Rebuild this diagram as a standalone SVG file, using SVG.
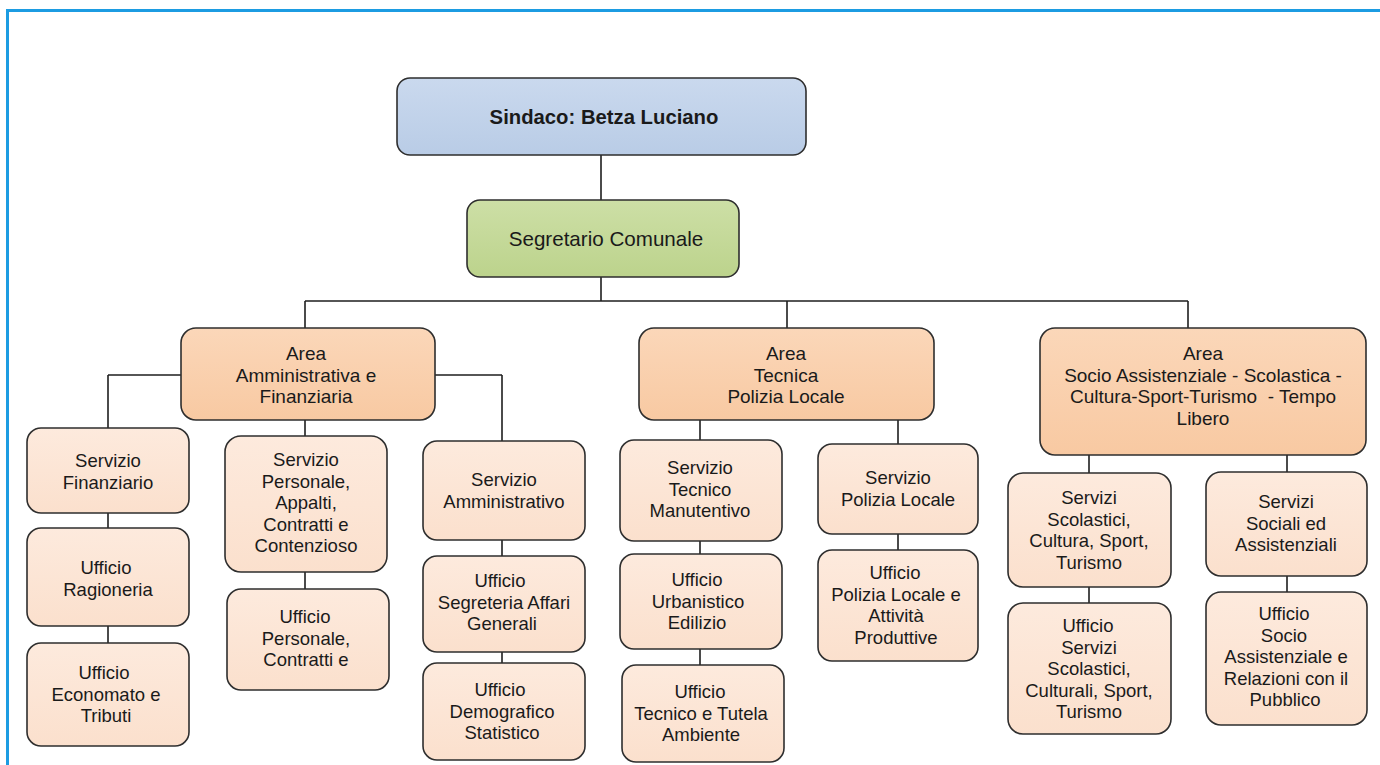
<svg xmlns="http://www.w3.org/2000/svg" width="1380" height="765" viewBox="0 0 1380 765">
<defs>
<linearGradient id="gBlue" x1="0" y1="0" x2="0" y2="1"><stop offset="0" stop-color="#cad9ee"/><stop offset="1" stop-color="#b9cce6"/></linearGradient>
<linearGradient id="gGreen" x1="0" y1="0" x2="0" y2="1"><stop offset="0" stop-color="#cddfa6"/><stop offset="1" stop-color="#bcd38c"/></linearGradient>
<linearGradient id="gArea" x1="0" y1="0" x2="0" y2="1"><stop offset="0" stop-color="#fbd7b9"/><stop offset="1" stop-color="#f8c9a2"/></linearGradient>
<linearGradient id="gChild" x1="0" y1="0" x2="0" y2="1"><stop offset="0" stop-color="#fdeadd"/><stop offset="1" stop-color="#fbe0cd"/></linearGradient>
</defs>
<style>
.box{stroke:#2e2e2e;stroke-width:1.6}
.top{fill:url(#gBlue)}
.sec{fill:url(#gGreen)}
.area{fill:url(#gArea)}
.child{fill:url(#gChild)}
text{font-family:"Liberation Sans",Arial,sans-serif;fill:#1a1a1a;text-anchor:middle}
.t{font-size:18.5px}
.ta{font-size:19px}
.tb{font-size:20.3px;font-weight:bold}
.ts{font-size:20.6px}
.conn line{stroke:#1e1e1e;stroke-width:1.6}
</style>
<rect x="0" y="0" width="1380" height="765" fill="#ffffff"/>
<g id="frame" fill="none" stroke="#1c9ce2" stroke-width="3">
<line x1="6" y1="10.5" x2="1380" y2="10.5"/>
<line x1="7.5" y1="9" x2="7.5" y2="765"/>
</g>
<g id="connectors" class="conn">
<line x1="601" y1="155" x2="601" y2="200"/>
<line x1="601" y1="277" x2="601" y2="301"/>
<line x1="305" y1="301" x2="1188" y2="301"/>
<line x1="305" y1="301" x2="305" y2="328"/>
<line x1="787" y1="301" x2="787" y2="328"/>
<line x1="1188" y1="301" x2="1188" y2="328"/>
<line x1="181" y1="375" x2="108" y2="375"/>
<line x1="108" y1="375" x2="108" y2="428"/>
<line x1="305" y1="420" x2="305" y2="436"/>
<line x1="435" y1="375" x2="502" y2="375"/>
<line x1="502" y1="375" x2="502" y2="441"/>
<line x1="108" y1="513" x2="108" y2="528"/>
<line x1="108" y1="626" x2="108" y2="643"/>
<line x1="305" y1="572" x2="305" y2="589"/>
<line x1="502" y1="540" x2="502" y2="556"/>
<line x1="502" y1="652" x2="502" y2="663"/>
<line x1="700" y1="420" x2="700" y2="440"/>
<line x1="898" y1="420" x2="898" y2="444"/>
<line x1="700" y1="541" x2="700" y2="554"/>
<line x1="700" y1="649" x2="700" y2="665"/>
<line x1="898" y1="534" x2="898" y2="550"/>
<line x1="1089" y1="455" x2="1089" y2="473"/>
<line x1="1287" y1="455" x2="1287" y2="472"/>
<line x1="1089" y1="587" x2="1089" y2="603"/>
<line x1="1287" y1="576" x2="1287" y2="592"/>
</g>
<g id="sindaco"><rect class="box top" x="397" y="78" width="409" height="77" rx="13"/><text class="tb" x="604" y="124">Sindaco: Betza Luciano</text></g>
<g id="segretario"><rect class="box sec" x="467" y="200" width="272" height="77" rx="13"/><text class="ts" x="606" y="246">Segretario Comunale</text></g>
<g id="area-amm"><rect class="box area" x="181" y="328" width="254" height="92" rx="15"/><text class="ta" x="306" y="360"><tspan x="306">Area</tspan><tspan x="306" dy="21.5">Amministrativa e</tspan><tspan x="306" dy="21.5">Finanziaria</tspan></text></g>
<g id="area-tec"><rect class="box area" x="639" y="328" width="295" height="92" rx="15"/><text class="ta" x="786" y="360"><tspan x="786">Area</tspan><tspan x="786" dy="21.5">Tecnica</tspan><tspan x="786" dy="21.5">Polizia Locale</tspan></text></g>
<g id="area-soc"><rect class="box area" x="1040" y="328" width="326" height="127" rx="15"/><text class="ta" x="1203" y="360"><tspan x="1203">Area</tspan><tspan x="1203" dy="21.5">Socio Assistenziale - Scolastica -</tspan><tspan x="1203" dy="21.5">Cultura-Sport-Turismo &#160;- Tempo</tspan><tspan x="1203" dy="21.5">Libero</tspan></text></g>
<g id="serv-fin"><rect class="box child" x="27" y="428" width="162" height="85" rx="14"/><text class="t" x="108" y="467"><tspan x="108">Servizio</tspan><tspan x="108" dy="21.5">Finanziario</tspan></text></g>
<g id="uff-rag"><rect class="box child" x="27" y="528" width="162" height="98" rx="14"/><text class="t" x="108" y="574"><tspan x="106">Ufficio</tspan><tspan x="108" dy="21.5">Ragioneria</tspan></text></g>
<g id="uff-eco"><rect class="box child" x="27" y="643" width="162" height="103" rx="14"/><text class="t" x="106" y="679"><tspan x="104">Ufficio</tspan><tspan x="106" dy="21.5">Economato e</tspan><tspan x="106" dy="21.5">Tributi</tspan></text></g>
<g id="serv-pers"><rect class="box child" x="225" y="436" width="162" height="136" rx="16"/><text class="t" x="306" y="466"><tspan x="306">Servizio</tspan><tspan x="306" dy="21.5">Personale,</tspan><tspan x="306" dy="21.5">Appalti,</tspan><tspan x="306" dy="21.5">Contratti e</tspan><tspan x="306" dy="21.5">Contenzioso</tspan></text></g>
<g id="uff-pers"><rect class="box child" x="227" y="589" width="162" height="101" rx="14"/><text class="t" x="306" y="623"><tspan x="305">Ufficio</tspan><tspan x="306" dy="21.5">Personale,</tspan><tspan x="306" dy="21.5">Contratti e</tspan></text></g>
<g id="serv-amm"><rect class="box child" x="423" y="441" width="162" height="99" rx="14"/><text class="t" x="504" y="486"><tspan x="504">Servizio</tspan><tspan x="504" dy="21.5">Amministrativo</tspan></text></g>
<g id="uff-seg"><rect class="box child" x="423" y="556" width="162" height="96" rx="14"/><text class="t" x="504" y="587"><tspan x="500">Ufficio</tspan><tspan x="504" dy="21.5">Segreteria Affari</tspan><tspan x="502" dy="21.5">Generali</tspan></text></g>
<g id="uff-dem"><rect class="box child" x="423" y="663" width="162" height="97" rx="14"/><text class="t" x="502" y="696"><tspan x="500">Ufficio</tspan><tspan x="502" dy="21.5">Demografico</tspan><tspan x="502" dy="21.5">Statistico</tspan></text></g>
<g id="serv-tec"><rect class="box child" x="620" y="440" width="162" height="101" rx="14"/><text class="t" x="700" y="474"><tspan x="700">Servizio</tspan><tspan x="700" dy="21.5">Tecnico</tspan><tspan x="700" dy="21.5">Manutentivo</tspan></text></g>
<g id="uff-urb"><rect class="box child" x="620" y="554" width="162" height="95" rx="14"/><text class="t" x="698" y="586"><tspan x="697">Ufficio</tspan><tspan x="698" dy="21.5">Urbanistico</tspan><tspan x="697" dy="21.5">Edilizio</tspan></text></g>
<g id="uff-amb"><rect class="box child" x="622" y="665" width="162" height="97" rx="14"/><text class="t" x="701" y="698"><tspan x="700">Ufficio</tspan><tspan x="701" dy="21.5">Tecnico e Tutela</tspan><tspan x="701" dy="21.5">Ambiente</tspan></text></g>
<g id="serv-pol"><rect class="box child" x="818" y="444" width="160" height="90" rx="14"/><text class="t" x="898" y="484"><tspan x="898">Servizio</tspan><tspan x="898" dy="21.5">Polizia Locale</tspan></text></g>
<g id="uff-pol"><rect class="box child" x="818" y="550" width="160" height="111" rx="14"/><text class="t" x="896" y="579"><tspan x="895">Ufficio</tspan><tspan x="896" dy="21.5">Polizia Locale e</tspan><tspan x="896" dy="21.5">Attività</tspan><tspan x="896" dy="21.5">Produttive</tspan></text></g>
<g id="serv-scol"><rect class="box child" x="1008" y="473" width="163" height="114" rx="15"/><text class="t" x="1089" y="504"><tspan x="1089">Servizi</tspan><tspan x="1089" dy="21.5">Scolastici,</tspan><tspan x="1089" dy="21.5">Cultura, Sport,</tspan><tspan x="1089" dy="21.5">Turismo</tspan></text></g>
<g id="uff-scol"><rect class="box child" x="1008" y="603" width="163" height="131" rx="15"/><text class="t" x="1089" y="632"><tspan x="1088">Ufficio</tspan><tspan x="1089" dy="21.5">Servizi</tspan><tspan x="1089" dy="21.5">Scolastici,</tspan><tspan x="1089" dy="21.5">Culturali, Sport,</tspan><tspan x="1089" dy="21.5">Turismo</tspan></text></g>
<g id="serv-soc"><rect class="box child" x="1206" y="472" width="161" height="104" rx="15"/><text class="t" x="1286" y="508"><tspan x="1286">Servizi</tspan><tspan x="1286" dy="21.5">Sociali ed</tspan><tspan x="1286" dy="21.5">Assistenziali</tspan></text></g>
<g id="uff-soc"><rect class="box child" x="1206" y="592" width="161" height="133" rx="15"/><text class="t" x="1286" y="620"><tspan x="1284">Ufficio</tspan><tspan x="1284" dy="21.5">Socio</tspan><tspan x="1286" dy="21.5">Assistenziale e</tspan><tspan x="1286" dy="21.5">Relazioni con il</tspan><tspan x="1285" dy="21.5">Pubblico</tspan></text></g>
</svg>
